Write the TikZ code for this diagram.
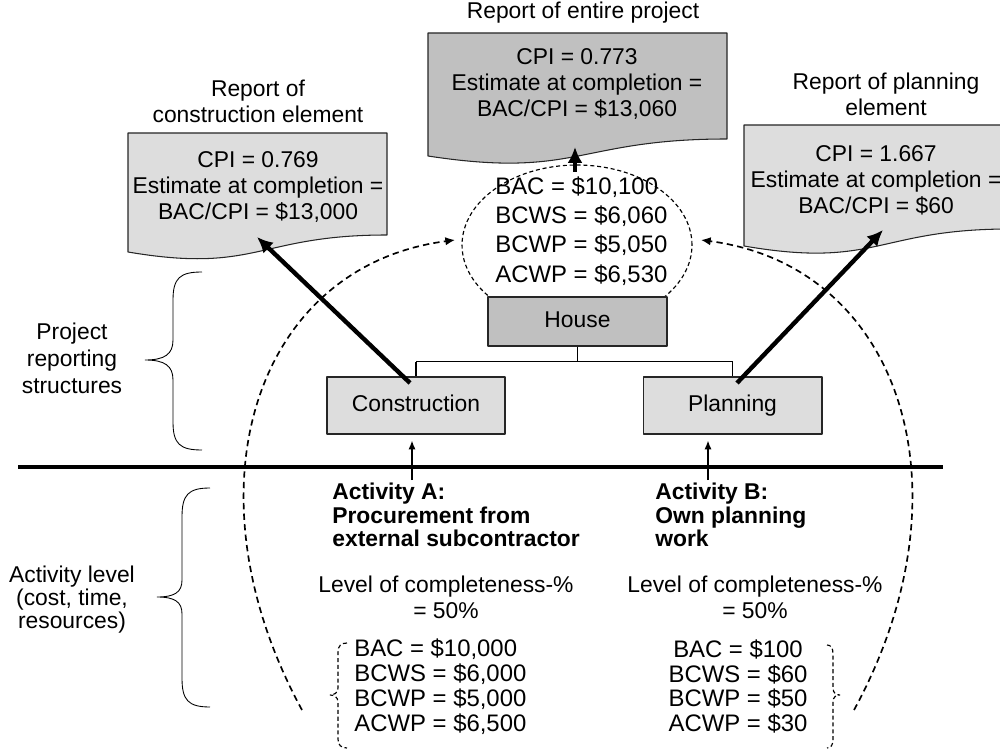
\documentclass[tikz,border=0pt]{standalone}
\usepackage{fontspec}
\setmainfont{Liberation Sans}
\usetikzlibrary{arrows.meta}

\begin{document}
\begin{tikzpicture}[x=0.02cm,y=-0.02cm,>={Latex[length=5pt,width=4pt]},line join=bevel,
  every node/.style={inner sep=0pt},
  txt/.style={align=center,font=\fontsize{13}{14.7}\selectfont},
  vals/.style={font=\fontsize{13.6}{14.2}\selectfont},
  box/.style={draw=black!85,line width=0.6pt,minimum width=3.58cm,text height=9.4pt,text depth=2.8pt,font=\fontsize{13}{14.7}\selectfont},
  sheet/.style={draw=black!85,line width=0.6pt},
  report arrow/.style={line width=2.5pt,-{Latex[length=9pt,width=8.5pt]}},
  loop arrow/.style={line width=0.95pt,dash pattern=on 3.6pt off 2.4pt,-{Latex[length=5.5pt,width=4.8pt]}},
  fine dash/.style={line width=0.65pt,dash pattern=on 2.3pt off 1.6pt},
]
\useasboundingbox (0,0) rectangle (1000,749);
\clip (0,0) rectangle (1000,749);
\definecolor{darkgrey}{HTML}{C0C0C0}
\definecolor{lightgrey}{HTML}{DDDDDD}
%%
% report sheets
\draw [sheet,fill=darkgrey] (428,33) -- (727,33) -- (727,139) .. controls (577.5,139) and (577.5,179) .. (428,156) -- cycle;
\draw [sheet,fill=lightgrey] (128,133) -- (387,133) -- (387,235) .. controls (257.5,235) and (257.5,274) .. (128,252) -- cycle;
\draw [sheet,fill=lightgrey] (744,125) -- (1010,125) -- (1010,229) .. controls (877,229) and (877,269) .. (744,246) -- cycle;
\node (title_project) at (583,13) [txt] {Report of entire project};
\node (report_project) at (577,84) [txt] {CPI = 0.773\\Estimate at completion =\\BAC/CPI = \$13,060};
\node (title_construction) at (258,101) [txt] {Report of\\construction element};
\node (report_construction) at (258,187) [txt] {CPI = 0.769\\Estimate at completion =\\BAC/CPI = \$13,000};
\node (title_planning) at (886,94) [txt] {Report of planning\\element};
\node (report_planning) at (876,180) [txt] {CPI = 1.667\\Estimate at completion =\\BAC/CPI = \$60};
%
% roll-up of the two activities
\draw [fine dash] (577,245) ellipse [x radius=2.3cm,y radius=1.6cm];
\coordinate (ell_left) at (455,240);
\coordinate (ell_right) at (701,240);
\draw [loop arrow] (302,710) .. controls (182,490) and (255,266) .. (ell_left);
\draw [loop arrow] (854,710) .. controls (974,490) and (901,266) .. (ell_right);
\node (values_house) at (495,231) [vals,anchor=west,align=left,font=\fontsize{13.6}{16.7}\selectfont] {BAC = \$10,100\\BCWS = \$6,060\\BCWP = \$5,050\\ACWP = \$6,530};
%
% project structure
\node (node_house) at (577.5,321.5) [box,fill=darkgrey,minimum height=0.98cm] {House};
\node (node_construction) at (416,405.5) [box,fill=lightgrey,minimum width=3.56cm,minimum height=1.14cm] {Construction};
\node (node_planning) at (732.5,405.5) [box,fill=lightgrey,minimum height=1.14cm] {Planning};
\draw [line width=0.6pt] (node_house.south) -- ++(0,15) coordinate (fork);
\draw [line width=0.6pt] (fork -| node_construction.north) -- (fork -| node_planning.north);
\draw [line width=0.6pt] (fork -| node_construction.north) -- (node_construction.north);
\draw [line width=0.6pt] (fork -| node_planning.north) -- (node_planning.north);
%
% reporting arrows
\coordinate (cons_out) at (410,383);
\coordinate (plan_out) at (737,383);
\coordinate (house_out) at (575,172);
\coordinate (tip_construction) at (257,237);
\coordinate (tip_planning) at (883,230);
\coordinate (tip_project) at (575,147);
\draw [report arrow] (cons_out) -- (tip_construction);
\draw [report arrow] (plan_out) -- (tip_planning);
\draw [report arrow] (house_out) -- (tip_project);
%
% level divider
\draw [line width=1.9pt] (18,467) -- (943,467);
%
% activities
\node (act_a) at (332,515) [anchor=west,align=left,font=\fontsize{13}{13.4}\selectfont\bfseries] {Activity A:\\Procurement from\\external subcontractor};
\node (act_b) at (655,515) [anchor=west,align=left,font=\fontsize{13}{13.4}\selectfont\bfseries] {Activity B:\\Own planning\\work};
\coordinate (act_a_top) at (412,480);
\coordinate (act_b_top) at (708,480);
\draw [->,line width=0.8pt,shorten >=3.4pt] (act_a_top) -- (node_construction.south -| act_a_top);
\draw [->,line width=0.8pt,shorten >=3.4pt] (act_b_top) -- (node_planning.south -| act_b_top);
\node (level_a) at (446,597) [txt] {Level of completeness-\%\\= 50\%};
\node (level_b) at (755,597) [txt] {Level of completeness-\%\\= 50\%};
\node (values_a) at (354,686.5) [vals,anchor=west,align=left] {BAC = \$10,000\\BCWS = \$6,000\\BCWP = \$5,000\\ACWP = \$6,500};
\node (values_b) at (738,686.5) [vals,align=center] {BAC = \$100\\BCWS = \$60\\BCWP = \$50\\ACWP = \$30};
\draw [fine dash] (347,643) .. controls (341,643) and (338,646) .. (338,652) -- (338,688) .. controls (338,693) and (334,695) .. (330,695) .. controls (334,695) and (338,697) .. (338,702) -- (338,739) .. controls (338,745) and (341,748) .. (347,748);
\draw [fine dash] (827,645) .. controls (831,645) and (833,648) .. (833,654) -- (833,688) .. controls (833,693) and (836,695) .. (840,695) .. controls (836,695) and (833,697) .. (833,702) -- (833,739) .. controls (833,745) and (831,748) .. (827,748);
%
% level labels
\node (label_project) at (72,358) [txt,font=\fontsize{13}{15.3}\selectfont] {Project\\reporting\\structures};
\node (label_activity) at (72,600) [txt,font=\fontsize{13}{13.1}\selectfont] {Activity level\\(cost, time,\\resources)};
\draw [line width=0.5pt] (202,272) .. controls (180,272) and (173,278) .. (173,300) -- (173,340) .. controls (173,354) and (165,360) .. (145,360) .. controls (165,360) and (173,366) .. (173,380) -- (173,422) .. controls (173,444) and (180,450) .. (202,450);
\draw [line width=0.5pt] (210,488) .. controls (188,488) and (182,495) .. (182,517) -- (182,580) .. controls (182,592) and (175,597) .. (157,597) .. controls (175,597) and (182,602) .. (182,614) -- (182,678) .. controls (182,700) and (188,707) .. (210,707);
%
\end{tikzpicture}
\end{document}
